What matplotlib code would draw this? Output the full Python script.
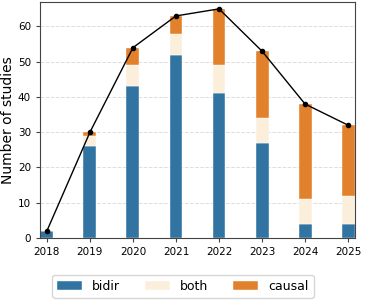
import matplotlib
matplotlib.use("Agg")
import matplotlib.pyplot as plt
import numpy as np

years = ["2018", "2019", "2020", "2021", "2022", "2023", "2024", "2025"]
bidir = [2, 26, 43, 52, 41, 27, 4, 4]
both = [0, 3, 6, 6, 8, 7, 7, 8]
causal = [0, 1, 5, 5, 16, 19, 27, 20]

colors = {"bidir": "#3274a1", "both": "#fbefdc", "causal": "#e1812c"}

fig = plt.figure(figsize=(3.66, 3.0), dpi=100)
ax = fig.add_axes([40 / 366, 1 - 238 / 300, 315 / 366, 236 / 300])

x = np.arange(len(years))
b = np.array(bidir)
bo = np.array(both)
c = np.array(causal)
total = b + bo + c
w = 0.3
ax.bar(x, b, w, color=colors["bidir"], label="bidir", edgecolor="white", linewidth=0.3, zorder=2)
ax.bar(x, bo, w, bottom=b, color=colors["both"], label="both", edgecolor="white", linewidth=0.3, zorder=2)
ax.bar(x, c, w, bottom=b + bo, color=colors["causal"], label="causal", edgecolor="white", linewidth=0.3, zorder=2)
ax.plot(x, total, color="black", marker="o", markersize=3, linewidth=1, zorder=3)

ax.set_xticks(x)
ax.set_xticklabels(years)
ax.set_xlim(-0.16, 7.16)
ax.set_ylim(0, total.max() * 1.03)
ax.set_yticks(np.arange(0, 61, 10))
ax.tick_params(labelsize=7.5, length=3, color="#444444")
ax.yaxis.grid(True, linestyle="--", color="#dddddd", linewidth=0.7, zorder=0)
ax.set_axisbelow(True)
ax.set_ylabel("Number of studies", fontsize=10, labelpad=2)
for s in ax.spines.values():
    s.set_color("#444444")

fig.legend(loc="lower center", bbox_to_anchor=(0.5, 0.0), ncol=3, fontsize=9,
           frameon=True, columnspacing=2.0, handlelength=2.0, edgecolor="#cccccc",
           borderaxespad=0.2)

fig.savefig("out.png", dpi=100)
